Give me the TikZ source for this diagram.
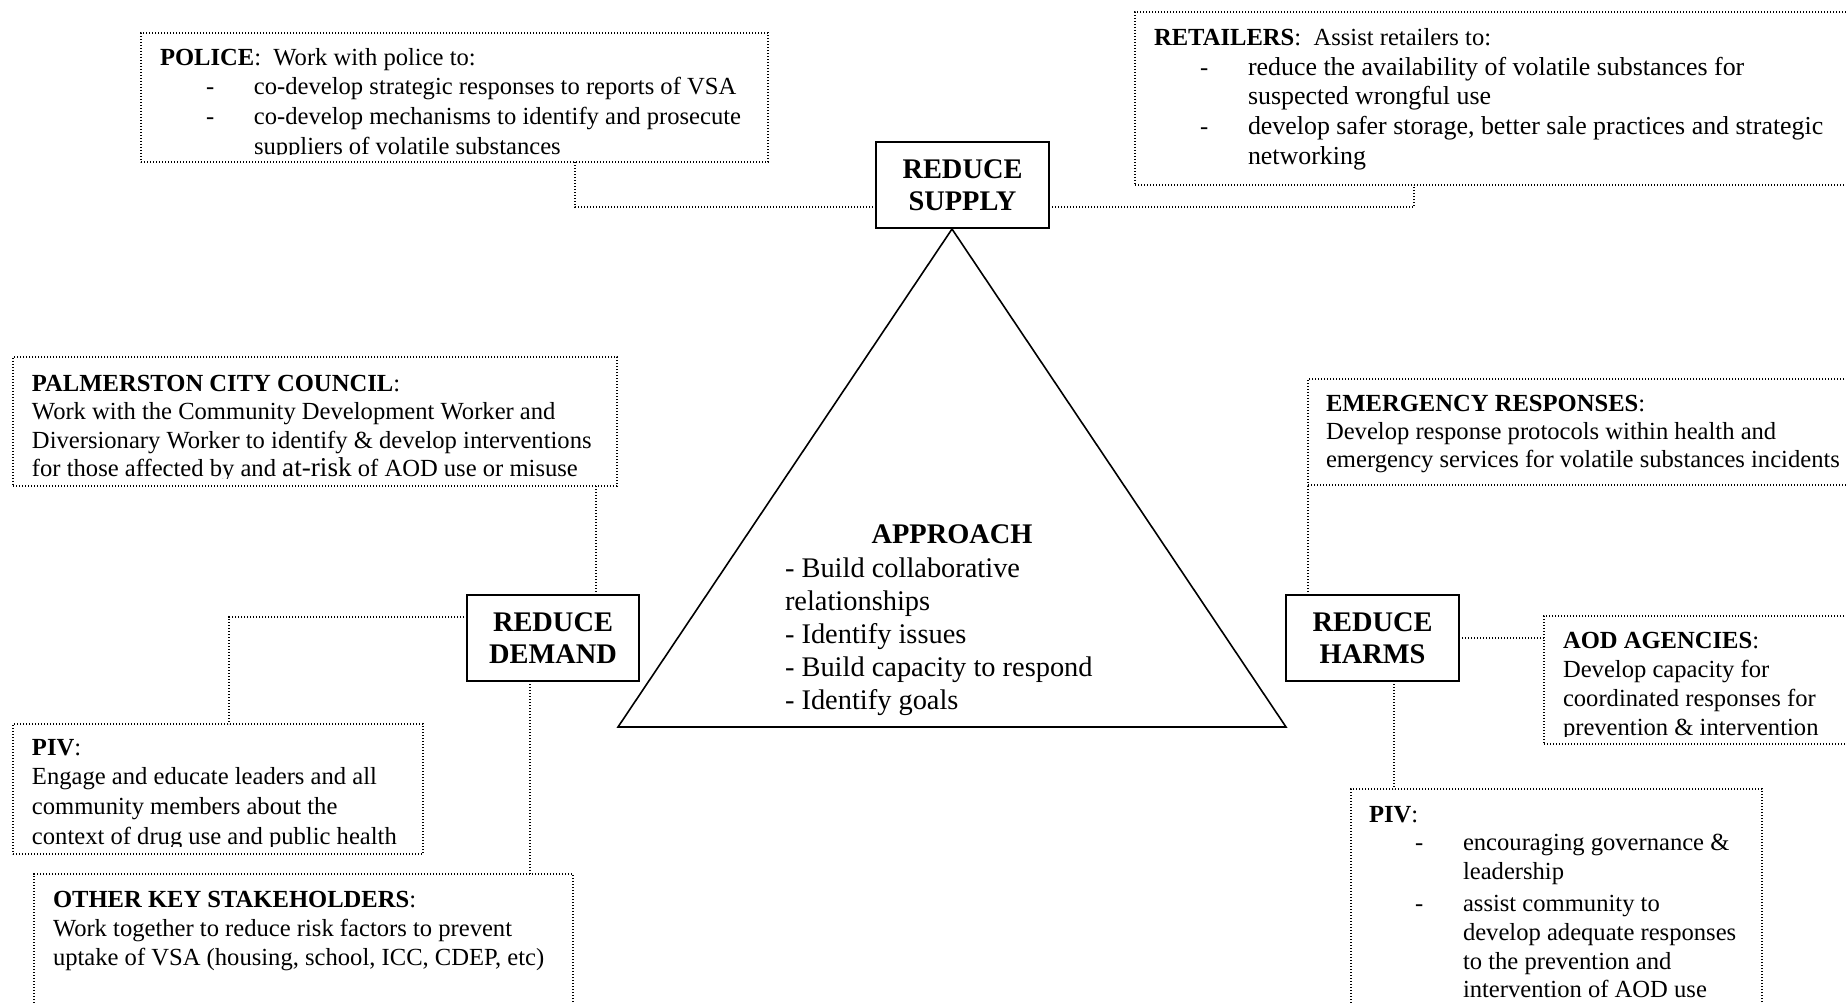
\documentclass[tikz,border=0pt]{standalone}
\usepackage{fontspec}
\setmainfont{Liberation Serif}
\newcommand{\firstrule}{\rule{0pt}{11pt}}
\newcommand{\dashitem}{\hspace*{23pt}\makebox[24pt][l]{-}}
\newcommand{\contitem}{\hspace*{47pt}}
\newcommand{\retsize}{\fontsize{12.95}{14.85}\selectfont}
\begin{document}
\begin{tikzpicture}[x=0.5pt,y=-0.5pt,
  dbox/.style={draw, line width=0.6pt, dash pattern=on 0.7pt off 0.8pt, anchor=north west, inner sep=0pt, outer sep=0pt},
  sbox/.style={draw, line width=0.55pt, inner sep=0pt, outer sep=0pt, font=\fontsize{14.2}{16}\selectfont\bfseries, align=center},
  conn/.style={line width=0.6pt, dash pattern=on 0.7pt off 0.8pt},
  body/.style={anchor=north west, inner sep=0pt, outer sep=0pt, align=left, font=\fontsize{12.3}{14.85}\selectfont},
  tri/.style={line width=0.8pt, line join=miter}
]
\useasboundingbox (0,0) rectangle (1846,1002);
\clip (0,0) rectangle (1846,1002);

% ---- boxes ----
\node[dbox, minimum width=313.5pt, minimum height=64.5pt] (police) at (141,33) {};
\node[dbox, minimum width=362.5pt, minimum height=86.5pt] (retail) at (1135,12) {};
\node[dbox, minimum width=302pt, minimum height=64.5pt] (palm) at (13,357) {};
\node[dbox, minimum width=205pt, minimum height=65pt] (pivL) at (13,724) {};
\node[dbox, minimum width=269.5pt, minimum height=75pt] (other) at (34,874) {};
\node[dbox, minimum width=280pt, minimum height=53pt] (emerg) at (1308,379) {};
\node[dbox, minimum width=160pt, minimum height=64pt] (aod) at (1544,616) {};
\node[dbox, minimum width=205.5pt, minimum height=120pt] (pivR) at (1351,789) {};

\node[sbox, line width=0.85pt, minimum width=86.5pt, minimum height=43pt] (supply) at (962.5,185) {REDUCE\\SUPPLY};
\node[sbox, minimum width=86pt, minimum height=43pt] (demand) at (553,638) {REDUCE\\DEMAND};
\node[sbox, minimum width=86.5pt, minimum height=43pt] (harms) at (1372.5,638) {REDUCE\\HARMS};

% ---- triangle ----
\coordinate (apex) at (952,229);
\coordinate (bl) at (618,727);
\coordinate (br) at (1286,727);
\draw[tri] (apex) -- (bl) -- (br) -- cycle;
\node[anchor=base, inner sep=0pt, font=\fontsize{14.2}{16.5}\selectfont\bfseries] (apptitle) at (952,543) {APPROACH};
\node[body, font=\fontsize{14.2}{16.5}\selectfont] (applist) at (785,555) {\firstrule- Build collaborative\\relationships\\- Identify issues\\- Build capacity to respond\\- Identify goals};

% ---- connector helper coordinates ----
\coordinate (c1) at (575,207);
\coordinate (c2) at (1414,207);
\coordinate (c3) at (596,0);
\coordinate (c4) at (229,617);
\coordinate (c5) at (530,0);
\coordinate (c6) at (1308,0);
\coordinate (c7) at (0,638);
\coordinate (c8) at (1394,0);

\draw[conn] (police.south -| c1) |- (supply.west |- c1);
\draw[conn] (supply.east |- c2) -| (retail.south -| c2);
\draw[conn] (palm.south -| c3) -- (demand.north -| c3);
\draw[conn] (demand.west |- c4) -| (pivL.north -| c4);
\draw[conn] (demand.south -| c5) -- (other.north -| c5);
\draw[conn] (harms.north -| c6) -- (emerg.south -| c6);
\draw[conn] (harms.east |- c7) -- (aod.west |- c7);
\draw[conn] (harms.south -| c8) -- (pivR.north -| c8);

% ---- texts (clipped to their boxes) ----
\begin{scope}
\clip (police.north west) rectangle ([yshift=4pt]police.south east);
\node[body] (policetxt) at (160,43) {\firstrule\textbf{POLICE}:\ \ Work with police to:\\
\dashitem co-develop strategic responses to reports of VSA\\
\dashitem co-develop mechanisms to identify and prosecute\\
\contitem suppliers of volatile substances};
\end{scope}

\begin{scope}
\clip (retail.north west) rectangle ([yshift=4pt]retail.south east);
\node[body] (retailtxt) at (1154,23.5) {\firstrule\textbf{RETAILERS}:\ \ Assist retailers to:\\
\dashitem{\retsize reduce the availability of volatile substances for}\\
\contitem{\retsize suspected wrongful use}\\
\dashitem{\retsize develop safer storage, better sale practices and strategic}\\
\contitem{\retsize networking}};
\end{scope}

\begin{scope}
\clip (palm.north west) rectangle ([yshift=4pt]palm.south east);
\node[body, font=\fontsize{12.3}{14.3}\selectfont] (palmtxt) at (32,369) {\firstrule\textbf{PALMERSTON CITY COUNCIL}:\\
Work with the Community Development Worker and\\
Diversionary Worker to identify \& develop interventions\\
for those affected by and {\fontsize{13.6}{14.3}\selectfont at-risk} of AOD use or misuse};
\end{scope}

\begin{scope}
\clip (pivL.north west) rectangle ([yshift=4pt]pivL.south east);
\node[body] (pivLtxt) at (32,733) {\firstrule\textbf{PIV}:\\
Engage and educate leaders and all\\
community members about the\\
context of drug use and public health};
\end{scope}

\begin{scope}
\clip (other.north west) rectangle ([yshift=4pt]other.south east);
\node[body, font=\fontsize{12.3}{14.6}\selectfont] (othertxt) at (53,885) {\firstrule\textbf{OTHER KEY STAKEHOLDERS}:\\
Work together to reduce risk factors to prevent\\
uptake of VSA (housing, school, ICC, CDEP, etc)};
\end{scope}

\begin{scope}
\clip (emerg.north west) rectangle ([yshift=4pt]emerg.south east);
\node[body, font=\fontsize{12.3}{14.1}\selectfont] (emergtxt) at (1326,389) {\firstrule\textbf{EMERGENCY RESPONSES}:\\
Develop response protocols within health and\\
emergency services for volatile substances incidents};
\end{scope}

\begin{scope}
\clip (aod.north west) rectangle ([yshift=4pt]aod.south east);
\node[body, font=\fontsize{12.3}{14.5}\selectfont] (aodtxt) at (1563,626) {\firstrule\textbf{AOD AGENCIES}:\\
Develop capacity for\\
coordinated responses for\\
prevention \& intervention};
\end{scope}

\begin{scope}
\clip (pivR.north west) rectangle ([yshift=4pt]pivR.south east);
\node[body, font=\fontsize{12.3}{14.4}\selectfont] (pivRtxt) at (1369,800) {\firstrule\textbf{PIV}:\\
\dashitem encouraging governance \&\\
\contitem leadership\\[1.5pt]
\dashitem assist community to\\
\contitem develop adequate responses\\
\contitem to the prevention and\\
\contitem intervention of AOD use};
\end{scope}
\end{tikzpicture}
\end{document}
